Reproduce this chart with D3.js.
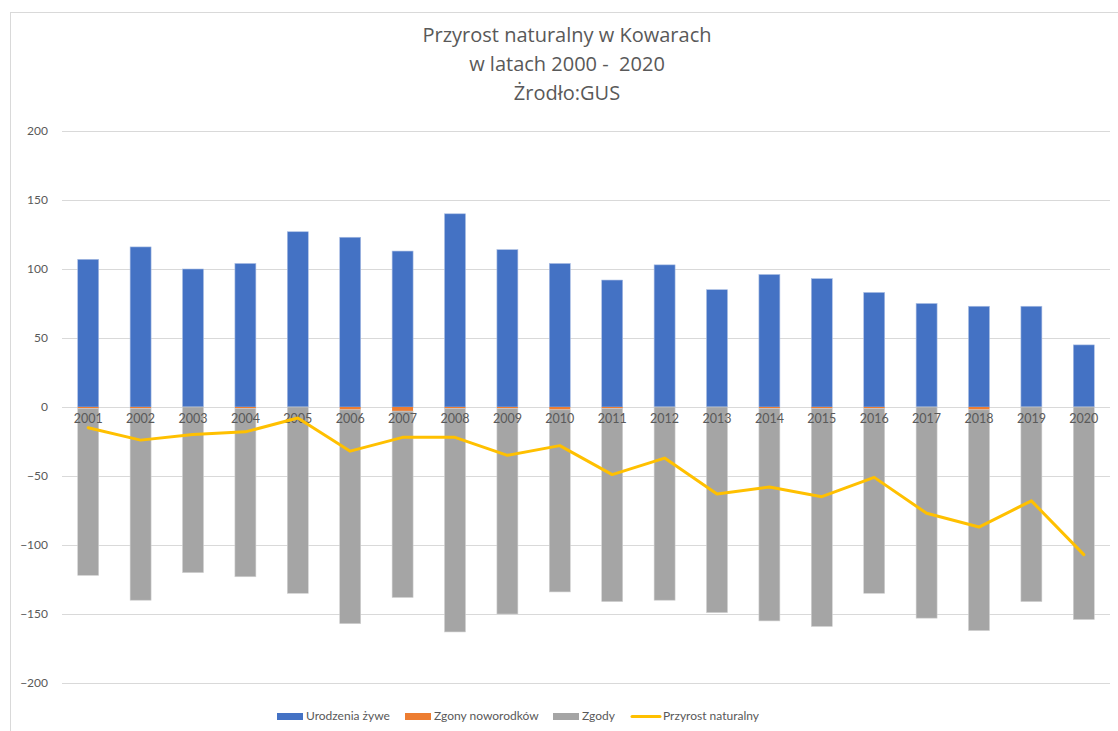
<!DOCTYPE html>
<html><head><meta charset="utf-8">
<script src="https://cdn.jsdelivr.net/npm/d3@7/dist/d3.min.js"></script>
<style>
html,body{margin:0;padding:0;background:#fff;}
svg{display:block;font-family:Lato, "Open Sans", sans-serif;}
</style></head>
<body>
<svg id="chart" width="1118" height="731"></svg>
<script>
const years = ["2001","2002","2003","2004","2005","2006","2007","2008","2009","2010","2011","2012","2013","2014","2015","2016","2017","2018","2019","2020"];
const urodzenia = [107,116,100,104,127,123,113,140,114,104,92,103,85,96,93,83,75,73,73,45];
const zgonyNoworodkow = [-1,-1,0,-1,0,-2,-3,-1,-1,-2,-1,0,0,-1,-1,-1,0,-2,0,0];
const zgony = [-121,-139,-120,-122,-135,-155,-135,-162,-149,-132,-140,-140,-149,-154,-158,-134,-153,-160,-141,-154];
const przyrost = [-15,-24,-20,-18,-8,-32,-22,-22,-35,-28,-49,-37,-63,-58,-65,-51,-77,-87,-68,-107];
const yTicks = [-200,-150,-100,-50,0,50,100,150,200];
const titleLines = ["Przyrost naturalny w Kowarach","w latach 2000 -  2020","Żrodło:GUS"];
const seriesNames = ["Urodzenia żywe","Zgony noworodków","Zgody","Przyrost naturalny"];
const colors = ["#4472C4","#ED7D31","#A5A5A5","#FFC000"];

const svg = d3.select("#chart");
// outer chart border
svg.append("rect").attr("x",10.5).attr("y",12.5).attr("width",1200).attr("height",800)
  .attr("fill","none").attr("stroke","#d9d9d9");

const x = d3.scaleBand().domain(years).range([62,1110]).paddingInner(0.6).paddingOuter(0.3);
const y = d3.scaleLinear().domain([-200,200]).range([683,131]);

// gridlines
svg.append("g").selectAll("line").data(yTicks).join("line")
  .attr("x1",62).attr("x2",1110).attr("y1",d=>y(d)+0.5).attr("y2",d=>y(d)+0.5)
  .attr("stroke","#d9d9d9").attr("stroke-width",1);

// y axis labels
const yAxis = d3.axisLeft(y).tickValues(yTicks).tickSize(0).tickPadding(0);
const ga = svg.append("g").attr("transform","translate(48,0)").call(yAxis);
ga.select(".domain").remove();
ga.selectAll("text").attr("fill","#595959").style("font-size","12px").style("font-family","Lato, sans-serif");

// bars
const bw = x.bandwidth();
const g = svg.append("g");
g.selectAll(".b").data(years).join("rect")
  .attr("x",d=>x(d)).attr("width",bw)
  .attr("y",(d,i)=>y(urodzenia[i])).attr("height",(d,i)=>y(0)-y(urodzenia[i]))
  .attr("fill",colors[0]).attr("stroke","#a9bde3").attr("stroke-width",0.6);
g.selectAll(".o").data(years).join("rect")
  .attr("x",d=>x(d)).attr("width",bw)
  .attr("y",y(0)).attr("height",(d,i)=>y(zgonyNoworodkow[i])-y(0))
  .attr("fill",colors[1]);
g.selectAll(".g").data(years).join("rect")
  .attr("x",d=>x(d)).attr("width",bw)
  .attr("y",(d,i)=>y(zgonyNoworodkow[i])).attr("height",(d,i)=>y(zgonyNoworodkow[i]+zgony[i])-y(zgonyNoworodkow[i]))
  .attr("fill",colors[2]).attr("stroke","#d0d0d0").attr("stroke-width",0.6);

// x labels (category axis at zero)
const xAxis = d3.axisBottom(x).tickSize(0).tickPadding(0);
const gx = svg.append("g").attr("transform",`translate(0,${y(0)+13})`).call(xAxis);
gx.select(".domain").remove();
gx.selectAll("text").attr("fill","#595959").attr("dy","0").style("font-size","12.5px").style("font-family","Lato, sans-serif")
  .attr("dominant-baseline","middle");

// line
const line = d3.line().x((d,i)=>x(years[i])+bw/2).y(d=>y(d));
svg.append("path").datum(przyrost).attr("d",line).attr("fill","none")
  .attr("stroke",colors[3]).attr("stroke-width",3).attr("stroke-linejoin","round").attr("stroke-linecap","round");

// title
svg.append("g").selectAll("text").data(titleLines).join("text")
  .attr("x",567).attr("y",(d,i)=>37+i*29).attr("text-anchor","middle").attr("dominant-baseline","middle")
  .attr("fill","#595959").style("font-size","20px").style("font-family","'Open Sans', sans-serif")
  .style("white-space","pre").attr("xml:space","preserve")
  .text(d=>d);

// legend
const legX = [277,405,553,632];
const leg = svg.append("g");
seriesNames.forEach((n,i)=>{
  if(i<3){
    leg.append("rect").attr("x",legX[i]).attr("y",713).attr("width",26).attr("height",7).attr("fill",colors[i]);
  } else {
    leg.append("line").attr("x1",legX[i]).attr("x2",legX[i]+28).attr("y1",716.5).attr("y2",716.5)
      .attr("stroke",colors[i]).attr("stroke-width",3).attr("stroke-linecap","round");
  }
  leg.append("text").attr("x",legX[i]+(i<3?29:31)).attr("y",716.5).attr("dominant-baseline","middle")
    .attr("fill","#595959").style("font-size","12px").style("font-family","Lato, sans-serif").text(n);
});
</script>
</body></html>
